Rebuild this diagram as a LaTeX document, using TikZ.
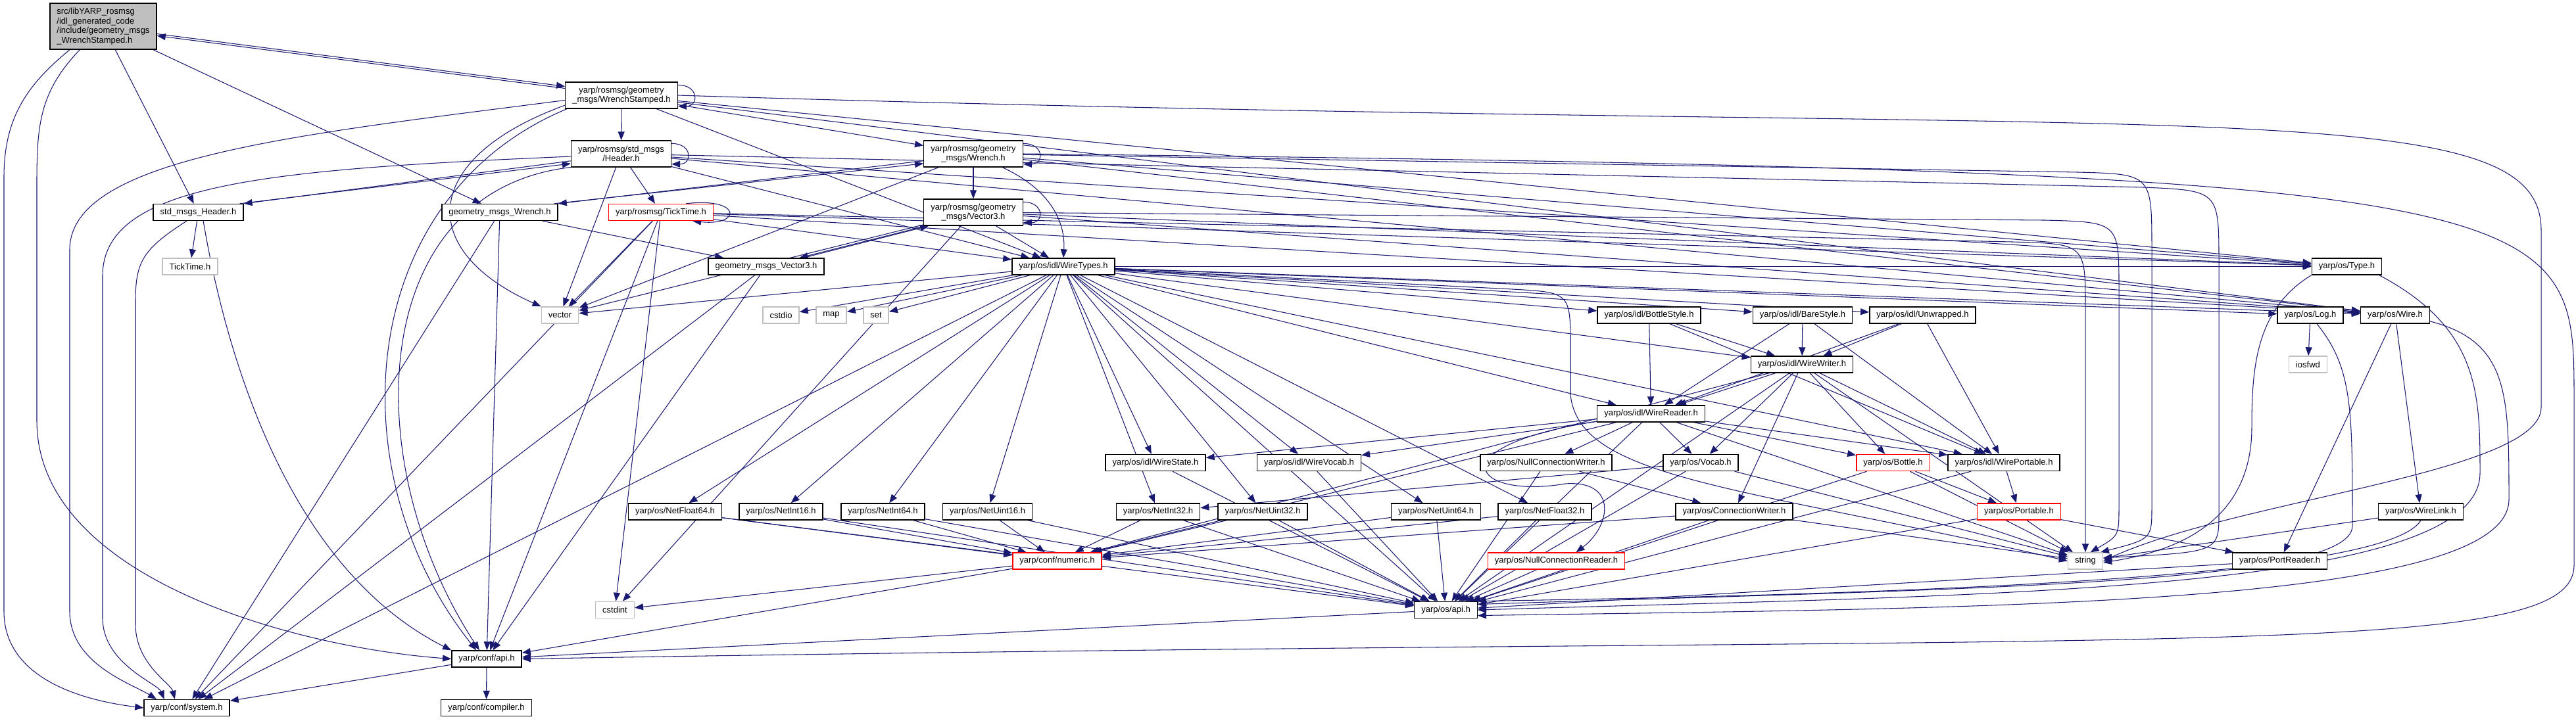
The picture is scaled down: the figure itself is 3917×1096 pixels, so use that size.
\documentclass[tikz,border=0pt]{standalone}
\usepackage{fontspec}
\setmainfont{Liberation Sans}
\usepackage{tikz}
\usetikzlibrary{arrows.meta, backgrounds}

\definecolor{edgeblue}{RGB}{25,25,112}
\definecolor{grey75}{RGB}{191,191,191}

\begin{document}
\begin{tikzpicture}[
  x=0.01cm, y=0.01cm,
  font=\fontsize{3.7}{4.15}\selectfont,
  hdr/.style={rectangle, draw=black, fill=white, line width=0.4pt,
              inner xsep=0.105cm, inner ysep=0.02cm, minimum height=0.25cm,
              align=center},
  twoline/.style={hdr, minimum height=0.40cm},
  sys/.style={hdr, draw=grey75},
  trunc/.style={hdr, draw=red},
  main/.style={hdr, fill=grey75, align=left, minimum height=0.70cm},
  arr/.style={draw=edgeblue, line width=0.3pt,
              -{Triangle[length=0.13cm, width=0.10cm]}}
]
\useasboundingbox (0,0) rectangle (3917,-1096);

% Row 1: the file itself and the rosmsg headers
\node[main] (root) at (157,-40) {src/libYARP\_rosmsg\\/idl\_generated\_code\\/include/geometry\_msgs\\\_WrenchStamped.h};
\node[twoline] (wstamped) at (945,-145) {yarp/rosmsg/geometry\\\_msgs/WrenchStamped.h};
\node[twoline] (rheader) at (944.5,-234) {yarp/rosmsg/std\_msgs\\/Header.h};
\node[twoline] (wrench) at (1480,-234) {yarp/rosmsg/geometry\\\_msgs/Wrench.h};
\node[twoline] (vector3) at (1480,-323) {yarp/rosmsg/geometry\\\_msgs/Vector3.h};

% Row 2: compat headers
\node[hdr] (hdrcompat) at (301.5,-323) {std\_msgs\_Header.h};
\node[hdr] (wrcompat) at (760,-323) {geometry\_msgs\_Wrench.h};
\node[trunc] (rticktime) at (1005,-323) {yarp/rosmsg/TickTime.h};
\node[sys] (ticktime) at (289,-405.5) {TickTime.h};
\node[hdr] (v3compat) at (1165,-405.5) {geometry\_msgs\_Vector3.h};
\node[hdr] (wiretypes) at (1617,-405.5) {yarp/os/idl/WireTypes.h};
\node[hdr] (typeh) at (3568.5,-405.5) {yarp/os/Type.h};

% Row 3: std headers and idl styles
\node[sys] (vector) at (851.5,-479.5) {vector};
\node[sys] (cstdio) at (1187.5,-479.5) {cstdio};
\node[sys] (map) at (1264,-479.5) {map};
\node[sys] (set) at (1332,-479.5) {set};
\node[hdr] (bottlestyle) at (2507.5,-479.5) {yarp/os/idl/BottleStyle.h};
\node[hdr] (barestyle) at (2741,-479.5) {yarp/os/idl/BareStyle.h};
\node[hdr] (unwrapped) at (2923.5,-479.5) {yarp/os/idl/Unwrapped.h};
\node[hdr] (logh) at (3513,-479.5) {yarp/os/Log.h};
\node[hdr] (wireh) at (3642,-479.5) {yarp/os/Wire.h};
\node[hdr] (wirewriter) at (2740,-554.5) {yarp/os/idl/WireWriter.h};
\node[sys] (iosfwd) at (3509.5,-554.5) {iosfwd};
\node[hdr] (wirereader) at (2510.5,-629.5) {yarp/os/idl/WireReader.h};

% Row 4: wire helpers
\node[hdr] (wirestate) at (1757,-704) {yarp/os/idl/WireState.h};
\node[hdr] (wirevocab) at (1990.5,-704) {yarp/os/idl/WireVocab.h};
\node[hdr] (nullcw) at (2351,-704) {yarp/os/NullConnectionWriter.h};
\node[hdr] (vocab) at (2586,-704) {yarp/os/Vocab.h};
\node[trunc] (bottle) at (2878.5,-704) {yarp/os/Bottle.h};
\node[hdr] (wireportable) at (3047,-704) {yarp/os/idl/WirePortable.h};

% Row 5: net types
\node[hdr] (netfloat64) at (1026.5,-778.5) {yarp/os/NetFloat64.h};
\node[hdr] (netint16) at (1187.5,-778.5) {yarp/os/NetInt16.h};
\node[hdr] (netint64) at (1342.5,-778.5) {yarp/os/NetInt64.h};
\node[hdr] (netuint16) at (1501.5,-778.5) {yarp/os/NetUint16.h};
\node[hdr] (netint32) at (1761,-778.5) {yarp/os/NetInt32.h};
\node[hdr] (netuint32) at (1920,-778.5) {yarp/os/NetUint32.h};
\node[hdr] (netuint64) at (2183.5,-778.5) {yarp/os/NetUint64.h};
\node[hdr] (netfloat32) at (2349,-778.5) {yarp/os/NetFloat32.h};
\node[hdr] (connwriter) at (2637,-778.5) {yarp/os/ConnectionWriter.h};
\node[trunc] (portable) at (3070,-778.5) {yarp/os/Portable.h};
\node[hdr] (wirelink) at (3681,-778.5) {yarp/os/WireLink.h};

% Row 6-8: bottom
\node[trunc] (numeric) at (1607.5,-853.5) {yarp/conf/numeric.h};
\node[trunc] (nullcr) at (2366.5,-853.5) {yarp/os/NullConnectionReader.h};
\node[sys] (string) at (3171,-853.5) {string};
\node[hdr] (portreader) at (3466.5,-853.5) {yarp/os/PortReader.h};
\node[sys] (cstdint) at (935,-928) {cstdint};
\node[hdr] (osapi) at (2198.5,-928) {yarp/os/api.h};
\node[hdr] (confapi) at (740,-1002.5) {yarp/conf/api.h};
\node[hdr] (system) at (284,-1077) {yarp/conf/system.h};
\node[hdr] (compiler) at (739.5,-1077) {yarp/conf/compiler.h};

\begin{scope}[on background layer]
% root
\draw[arr] (root.-8) -- (wstamped.171);
\draw[arr] (wstamped.173) -- (root.-10);
\draw[arr] (root) -- (hdrcompat);
\draw[arr] (root) -- (wrcompat);
\draw[arr] (root.-145) .. controls (40,-130) and (6,-180) .. (6,-270) -- (6,-930) .. controls (6,-1030) and (120,-1065) .. (system.west);
\draw[arr] (root.-135) .. controls (60,-140) and (56,-190) .. (56,-280) -- (56,-640) .. controls (56,-880) and (450,-985) .. (confapi.west);

% rosmsg WrenchStamped
\draw[arr] ([yshift=-0.05cm]wstamped.north east) .. controls +(32,0) and +(32,0) .. ([yshift=0.04cm]wstamped.south east);
\draw[arr] (wstamped) -- (rheader);
\draw[arr] (wstamped) -- (wrench);
\draw[arr] (wstamped) -- (wiretypes);
\draw[arr] (wstamped) -- (typeh);
\draw[arr] (wstamped) -- (wireh);
\draw[arr] (wstamped.185) .. controls (450,-205) and (106,-240) .. (106,-380) -- (106,-930) .. controls (106,-1010) and (200,-1040) .. (system.164);
\draw[arr] (wstamped.190) .. controls (640,-240) and (630,-380) .. (vector.north west);
\draw[arr] (wstamped.-166) .. controls (540,-300) and (510,-720) .. (confapi.140);
\draw[arr] (wstamped.east) .. controls (3300,-215) and (3864,-130) .. (3864,-350) -- (3864,-620) .. controls (3864,-720) and (3400,-760) .. (string.east);

% rosmsg Header
\draw[arr] ([yshift=-0.05cm]rheader.north east) .. controls +(32,0) and +(32,0) .. ([yshift=0.05cm]rheader.south east);
\draw[arr] (rheader.188) -- (hdrcompat.north east);
\draw[arr] ([xshift=-0.06cm]hdrcompat.north east) -- (rheader.191);
\draw[arr] (rheader) -- (rticktime);
\draw[arr] (rheader) -- (vector);
\draw[arr] (rheader) -- (wiretypes);
\draw[arr] (rheader) -- (typeh);
\draw[arr] (rheader) -- (wireh);
\draw[arr] (rheader) -- (3260,-285) .. controls (3374,-290) .. (3374,-400) -- (3374,-780) .. controls (3374,-840) .. (string.10);
\draw[arr] (rheader.183) .. controls (400,-258) and (156,-280) .. (156,-420) -- (156,-940) .. controls (156,-1010) and (240,-1040) .. (system.159);
\draw[arr] (rheader.-165) .. controls (560,-290) and (540,-700) .. (confapi.130);

% compat headers
\draw[arr] (hdrcompat) -- (ticktime);
\draw[arr] (hdrcompat.-143) .. controls (215,-380) and (206,-400) .. (206,-460) -- (206,-950) .. controls (206,-1010) and (260,-1040) .. (system.144);
\draw[arr] (hdrcompat.-60) .. controls (340,-520) and (430,-860) .. (confapi.north west);
\draw[arr] (wrench.188) -- (wrcompat.north east);
\draw[arr] ([xshift=-0.06cm]wrcompat.north east) -- (wrench.191);
\draw[arr] (wrcompat) -- (v3compat);
\draw[arr] (wrcompat) -- (system);
\draw[arr] (wrcompat) -- (confapi);
\draw[arr] (v3compat) -- (system);
\draw[arr] (v3compat) -- (confapi);

% rosmsg TickTime
\draw[arr] ([xshift=-0.42cm]rticktime.north east) .. controls +(85,10) and +(75,-8) .. ([xshift=-0.32cm]rticktime.south east);
\draw[arr] (rticktime) -- (vector);
\draw[arr] (rticktime) -- (wiretypes);
\draw[arr] (rticktime) -- (cstdint);
\draw[arr] (rticktime) -- (system);
\draw[arr] (rticktime) -- (confapi);
\draw[arr] (rticktime) -- (typeh);
\draw[arr] (rticktime) -- (wireh);
\draw[arr] (rticktime) -- (3060,-368) .. controls (3171,-371) .. (3171,-470) -- (string.north);

% rosmsg Wrench and Vector3
\draw[arr] ([yshift=-0.05cm]wrench.north east) .. controls +(32,0) and +(32,0) .. ([yshift=0.05cm]wrench.south east);
\draw[arr] (wrench) -- (vector3);
\draw[arr] (wrench) -- (vector);
\draw[arr] (wrench) -- (typeh);
\draw[arr] (wrench) -- (wireh);
\draw[arr] (wrench) -- (3160,-262) .. controls (3272,-265) .. (3272,-380) -- (3272,-770) .. controls (3272,-820) .. (string.30);
\draw[arr] (wrench.-25) .. controls (1600,-290) and (1620,-340) .. (wiretypes.north);
\draw[arr] (wrench.east) .. controls (3900,-260) and (3914,-300) .. (3914,-600) -- (3914,-860) .. controls (3914,-1010) and (3300,-960) .. (confapi.east);
\draw[arr] ([yshift=-0.05cm]vector3.north east) .. controls +(32,0) and +(32,0) .. ([yshift=0.05cm]vector3.south east);
\draw[arr] ([xshift=0.04cm]vector3.south west) -- ([xshift=-0.38cm]v3compat.north east);
\draw[arr] ([xshift=-0.32cm]v3compat.north east) -- ([xshift=0.08cm]vector3.south west);
\draw[arr] (vector3) -- (wiretypes);
\draw[arr] (vector3) -- (vector);
\draw[arr] (vector3) -- (cstdint);
\draw[arr] (vector3) -- (typeh);
\draw[arr] (vector3) -- (wireh);
\draw[arr] (vector3) -- (3110,-335) .. controls (3222,-338) .. (3222,-440) -- (3222,-770) .. controls (3222,-815) .. (string.60);

% WireTypes
\draw[arr] (wiretypes) -- (cstdio);
\draw[arr] (wiretypes) -- (map);
\draw[arr] (wiretypes) -- (set);
\draw[arr] (wiretypes) -- (vector);
\draw[arr] (wiretypes) -- (system);
\draw[arr] (wiretypes) -- (netfloat64);
\draw[arr] (wiretypes) -- (netint16);
\draw[arr] (wiretypes) -- (netint64);
\draw[arr] (wiretypes) -- (netuint16);
\draw[arr] (wiretypes) -- (netint32);
\draw[arr] (wiretypes) -- (netuint32);
\draw[arr] (wiretypes) -- (netuint64);
\draw[arr] (wiretypes) -- (netfloat32);
\draw[arr] (wiretypes) -- (wirestate);
\draw[arr] (wiretypes) -- (wirevocab);
\draw[arr] (wiretypes) -- (bottlestyle);
\draw[arr] (wiretypes) -- (barestyle);
\draw[arr] (wiretypes) -- (unwrapped);
\draw[arr] (wiretypes) -- (wirereader);
\draw[arr] (wiretypes) -- (wirewriter);
\draw[arr] (wiretypes) -- (wireportable);
\draw[arr] (wiretypes) -- (2300,-440) .. controls (2388,-445) .. (2388,-530) -- (2388,-600) .. controls (2400,-730) and (2650,-740) .. (string.west);
\draw[arr] (wiretypes) -- (osapi);
\draw[arr] (wiretypes) -- (typeh);
\draw[arr] (wiretypes) -- (wireh);
\draw[arr] (wiretypes) -- (logh);

% idl styles
\draw[arr] (bottlestyle) -- (wirereader);
\draw[arr] (bottlestyle) -- (wirewriter);
\draw[arr] (bottlestyle) -- (wireportable);
\draw[arr] (barestyle) -- (wirereader);
\draw[arr] (barestyle) -- (wirewriter);
\draw[arr] (barestyle) -- (wireportable);
\draw[arr] (unwrapped) -- (wirereader);
\draw[arr] (unwrapped) -- (wirewriter);
\draw[arr] (unwrapped) -- (wireportable);

% WireWriter
\draw[arr] (wirewriter) -- (wirereader);
\draw[arr] (wirewriter) -- (numeric);
\draw[arr] (wirewriter) -- (vocab);
\draw[arr] (wirewriter) -- (connwriter);
\draw[arr] (wirewriter) -- (bottle);
\draw[arr] (wirewriter) -- (wireportable);
\draw[arr] (wirewriter) -- (string);
\draw[arr] (wirewriter) -- (osapi);

% WireReader
\draw[arr] (wirereader) -- (wirestate);
\draw[arr] (wirereader) -- (wirevocab);
\draw[arr] (wirereader) -- (nullcw);
\draw[arr] (wirereader) -- (vocab);
\draw[arr] (wirereader) -- (bottle);
\draw[arr] (wirereader) -- (wireportable);
\draw[arr] (wirereader) -- (numeric);
\draw[arr] (wirereader) -- (string);
\draw[arr] (wirereader) -- (osapi);
\draw[arr] (wirereader.188) .. controls (2180,-680) and (2240,-760) .. (2380,-736) .. controls (2460,-730) and (2450,-800) .. ([xshift=0.3cm]nullcr.north);

% os headers
\draw[arr] (nullcw) -- (connwriter);
\draw[arr] (nullcw) -- (osapi);
\draw[arr] (vocab) -- (netint32);
\draw[arr] (vocab) -- (string);
\draw[arr] (vocab) -- (osapi);
\draw[arr] (bottle) -- (portable);
\draw[arr] (bottle) -- (string);
\draw[arr] (bottle) -- (osapi);
\draw[arr] (connwriter) -- (numeric);
\draw[arr] (connwriter) -- (string);
\draw[arr] (connwriter) -- (osapi);
\draw[arr] (nullcr) -- (osapi);
\draw[arr] (wirestate) -- (osapi);
\draw[arr] (wirevocab) -- (osapi);
\draw[arr] (wireportable) -- (portable);
\draw[arr] (wireportable) -- (osapi);
\draw[arr] (portable) -- (portreader);
\draw[arr] (portable) -- (osapi);
\draw[arr] (portreader) -- (osapi);
\draw[arr] (wirelink) -- (string);
\draw[arr] (typeh.south west) .. controls (3430,-470) and (3424,-560) .. (3424,-650) .. controls (3424,-800) and (3300,-840) .. (string.-5);
\draw[arr] (logh) -- (iosfwd);
\draw[arr] (wireh) -- (wirelink);
\draw[arr] (wireh) -- (portreader);
\draw[arr] (typeh.-15) .. controls (3771,-500) and (3771,-600) .. (3771,-720) .. controls (3771,-905) and (3000,-905) .. (osapi.east);
\draw[arr] (wireh.-10) .. controls (3815,-520) and (3815,-600) .. (3815,-760) .. controls (3815,-925) and (3000,-925) .. (osapi.-10);
\draw[arr] ([xshift=0.1cm]logh.south) .. controls (3577,-560) and (3577,-620) .. (3577,-800) .. controls (3577,-890) and (3000,-895) .. (osapi.10);
\draw[arr] (wirelink.south) .. controls (3640,-860) and (3200,-900) .. (osapi.20);

% net types
\draw[arr] (netfloat64) -- (numeric);
\draw[arr] (netfloat64) -- (osapi);
\draw[arr] (netint16) -- (numeric);
\draw[arr] (netint16) -- (osapi);
\draw[arr] (netint64) -- (numeric);
\draw[arr] (netint64) -- (osapi);
\draw[arr] (netuint16) -- (numeric);
\draw[arr] (netuint16) -- (osapi);
\draw[arr] (netint32) -- (numeric);
\draw[arr] (netint32) -- (osapi);
\draw[arr] (netuint32) -- (numeric);
\draw[arr] (netuint32) -- (osapi);
\draw[arr] (netuint64) -- (numeric);
\draw[arr] (netuint64) -- (osapi);
\draw[arr] (netfloat32) -- (numeric);
\draw[arr] (netfloat32) -- (osapi);

% conf
\draw[arr] (numeric) -- (cstdint);
\draw[arr] (numeric) -- (confapi);
\draw[arr] (osapi) -- (confapi);
\draw[arr] (confapi) -- (system);
\draw[arr] (confapi) -- (compiler);
\end{scope}
\end{tikzpicture}
\end{document}
